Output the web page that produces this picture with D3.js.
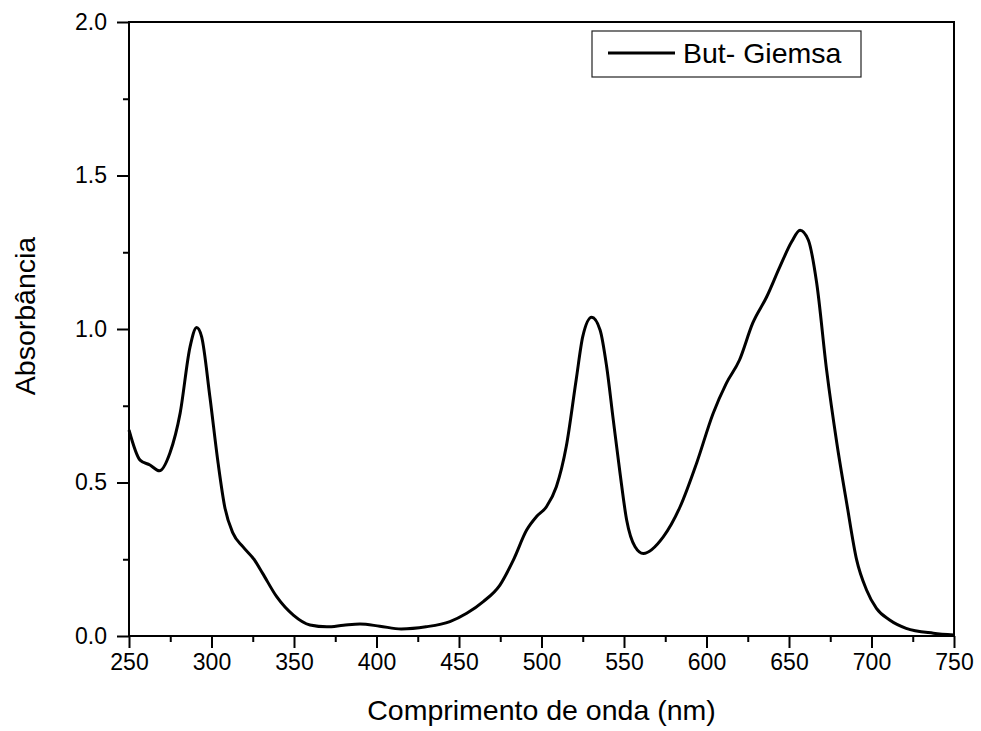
<!DOCTYPE html>
<html>
<head>
<meta charset="utf-8">
<script src="https://cdn.jsdelivr.net/npm/d3@7"></script>
<style>
  body { margin: 0; background: #fff; }
  text { font-family: Arial, "Liberation Sans", sans-serif; fill: #000; }
</style>
</head>
<body>
<script>
"use strict";

// spectrum
var wavelength = [250, 256.7, 262.7, 268.4, 274.8, 281, 287, 291, 294, 299, 304, 308, 313, 319, 326, 331, 339.5, 349.6, 359.7, 370, 380, 390, 402, 415, 430, 444.5, 454.7, 464.7, 474.8, 483, 491, 497, 503, 509, 515, 521, 525, 530.4, 535.5, 539.5, 543.5, 547.6, 551.6, 556.7, 561.7, 573.8, 584, 594, 604, 612, 620, 628, 636.5, 644.5, 651.6, 656.7, 661.7, 666.8, 672.8, 679, 685, 691, 697, 703, 711, 721, 737.5, 750];
var absorbance = [0.671, 0.573, 0.557, 0.538, 0.596, 0.726, 0.942, 1.005, 0.975, 0.78, 0.563, 0.421, 0.335, 0.291, 0.248, 0.204, 0.128, 0.068, 0.036, 0.030, 0.035, 0.039, 0.032, 0.023, 0.030, 0.047, 0.074, 0.112, 0.166, 0.248, 0.345, 0.389, 0.421, 0.486, 0.617, 0.834, 0.975, 1.038, 0.997, 0.877, 0.704, 0.530, 0.378, 0.291, 0.269, 0.323, 0.421, 0.563, 0.725, 0.823, 0.899, 1.019, 1.105, 1.203, 1.284, 1.322, 1.290, 1.149, 0.866, 0.628, 0.432, 0.248, 0.150, 0.090, 0.052, 0.025, 0.009, 0.003];

var xTicks = [250, 300, 350, 400, 450, 500, 550, 600, 650, 700, 750];
var yTicks = [0.0, 0.5, 1.0, 1.5, 2.0];
var seriesName = "But- Giemsa";

var width = 981, height = 731;
var margin = {top: 22, right: 27, bottom: 95, left: 129};

var svg = d3.select("body").append("svg")
	.attr("width", width)
	.attr("height", height);

var x = d3.scaleLinear().domain([250, 750]).range([margin.left, width - margin.right]);
var y = d3.scaleLinear().domain([0, 2]).range([height - margin.bottom, margin.top]);

var data = wavelength.map(function (w, i) { return {w: w, a: absorbance[i]}; });

// x axis with minor ticks
var xAxis = svg.append("g")
	.attr("transform", "translate(0," + y(0) + ")")
	.call(d3.axisBottom(x).tickValues(xTicks).tickSize(12).tickPadding(6).tickFormat(d3.format("d")));
xAxis.selectAll("text").style("font-size", "23px");

svg.append("g")
	.attr("transform", "translate(0," + y(0) + ")")
	.call(d3.axisBottom(x).tickValues(d3.range(275, 750, 50)).tickSize(6).tickFormat(""))
	.select(".domain").remove();

// y axis with minor ticks
var yAxis = svg.append("g")
	.attr("transform", "translate(" + x(250) + ",0)")
	.call(d3.axisLeft(y).tickValues(yTicks).tickSize(12).tickPadding(10).tickFormat(d3.format(".1f")));
yAxis.selectAll("text").style("font-size", "23px");

svg.append("g")
	.attr("transform", "translate(" + x(250) + ",0)")
	.call(d3.axisLeft(y).tickValues([0.25, 0.75, 1.25, 1.75]).tickSize(6).tickFormat(""))
	.select(".domain").remove();

svg.selectAll(".domain").remove();
svg.selectAll(".tick line").attr("stroke-width", 2);

// frame
svg.append("rect")
	.attr("x", x(250))
	.attr("y", y(2))
	.attr("width", x(750) - x(250))
	.attr("height", y(0) - y(2))
	.attr("fill", "none")
	.attr("stroke", "#000")
	.attr("stroke-width", 2);

// spectrum
var line = d3.line()
	.x(function (d) { return x(d.w); })
	.y(function (d) { return y(d.a); })
	.curve(d3.curveMonotoneX);

svg.append("path")
	.datum(data)
	.attr("fill", "none")
	.attr("stroke", "#000")
	.attr("stroke-width", 3)
	.attr("stroke-linejoin", "round")
	.attr("d", line);

// axis titles
svg.append("text")
	.attr("x", (x(250) + x(750)) / 2)
	.attr("y", 720)
	.attr("text-anchor", "middle")
	.style("font-size", "28.5px")
	.text("Comprimento de onda (nm)");

svg.append("text")
	.attr("transform", "translate(35,316) rotate(-90)")
	.attr("text-anchor", "middle")
	.style("font-size", "28.5px")
	.text("Absorbância");

// legend
var legend = svg.append("g");
legend.append("rect")
	.attr("x", 592)
	.attr("y", 31)
	.attr("width", 269)
	.attr("height", 46)
	.attr("fill", "#fff")
	.attr("stroke", "#222")
	.attr("stroke-width", 1.2);
legend.append("line")
	.attr("x1", 608).attr("x2", 675)
	.attr("y1", 53).attr("y2", 53)
	.attr("stroke", "#000")
	.attr("stroke-width", 3);
legend.append("text")
	.attr("x", 683)
	.attr("y", 63)
	.style("font-size", "28.5px")
	.text(seriesName);
</script>
</body>
</html>
